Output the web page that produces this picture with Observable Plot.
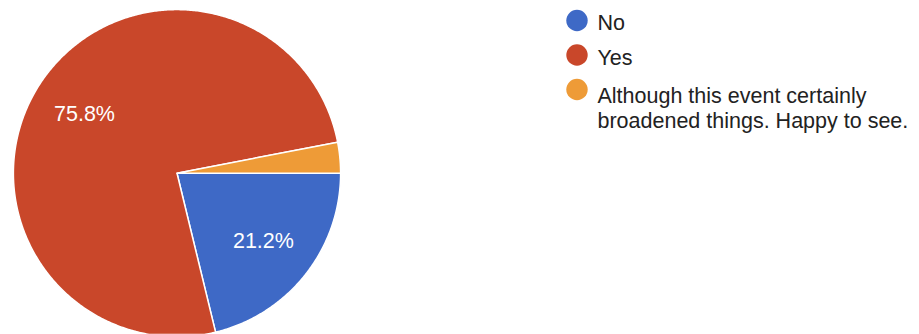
<!DOCTYPE html>
<html><head><meta charset="utf-8">
<script src="https://cdn.jsdelivr.net/npm/d3@7"></script>
<script src="https://cdn.jsdelivr.net/npm/@observablehq/plot@0.6"></script>
<style>html,body{margin:0;padding:0;background:#fff;overflow:hidden}</style>
</head><body><div id="chart"></div>
<script>
// ---- data ----
const answers = ["No", "Yes", "Although this event certainly broadened things. Happy to see."];
const counts = [7, 25, 1];
const colors = ["#3e69c6", "#c9472a", "#ee9b37"];

// ---- layout ----
const W = 919, H = 334;
const cx = 176.5, cy = 172.7, R = 163.6;
const startAngle = Math.PI / 2; // first slice begins at 3 o'clock, clockwise
const total = d3.sum(counts);
const fmt = d3.format(".1%");
const FONT = 21.5;

const rows = answers.map((answer, i) => ({answer, count: counts[i]}));
const arcs = d3.pie().sort(null).value(d => d.count)
  .startAngle(startAngle).endAngle(startAngle + 2 * Math.PI)(rows);
const pt = (a, r) => [cx + r * Math.sin(a), cy - r * Math.cos(a)];

const slices = arcs.map(a => {
  const n = Math.max(2, Math.ceil((a.endAngle - a.startAngle) / (Math.PI / 360)));
  const ring = [[cx, cy]];
  for (let k = 0; k <= n; k++) ring.push(pt(a.startAngle + (a.endAngle - a.startAngle) * k / n, R));
  ring.push([cx, cy]);
  return {type: "Feature", properties: {answer: a.data.answer},
          geometry: {type: "Polygon", coordinates: [ring]}};
});

const labels = arcs.filter(a => a.data.count / total >= 0.05).map(a => {
  const [x, y] = pt((a.startAngle + a.endAngle) / 2, R * 0.672);
  return {x, y, text: fmt(a.data.count / total)};
});

const legendX = 576.5, legendTextX = 597, legendTop = 20, legendStep = 34.5;
const legend = answers.map((answer, i) => {
  const y = legendTop + i * legendStep;
  const wrapped = answer.length > 30;
  return {answer, x: legendX, tx: legendTextX, y, ty: y - 8.3 + (wrapped ? 3.3 : 0)};
});

const chart = Plot.plot({
  width: W, height: H, margin: 0,
  projection: "identity",
  color: {domain: answers, range: colors},
  style: {fontFamily: "'Liberation Sans', Arial, sans-serif", background: "white"},
  marks: [
    Plot.geo(slices, {fill: d => d.properties.answer, stroke: "white", strokeWidth: 1.5, strokeLinejoin: "round"}),
    Plot.text(labels, {x: "x", y: "y", text: "text", fill: "white", fontSize: FONT}),
    Plot.dot(legend, {x: "x", y: "y", r: 10.7, fill: "answer"}),
    Plot.text(legend, {x: "tx", y: "ty", text: "answer", textAnchor: "start", lineAnchor: "top",
      lineWidth: 16, lineHeight: 1.19, fontSize: FONT, fill: "#222"})
  ]
});
document.getElementById("chart").appendChild(chart);
</script>
</body></html>
